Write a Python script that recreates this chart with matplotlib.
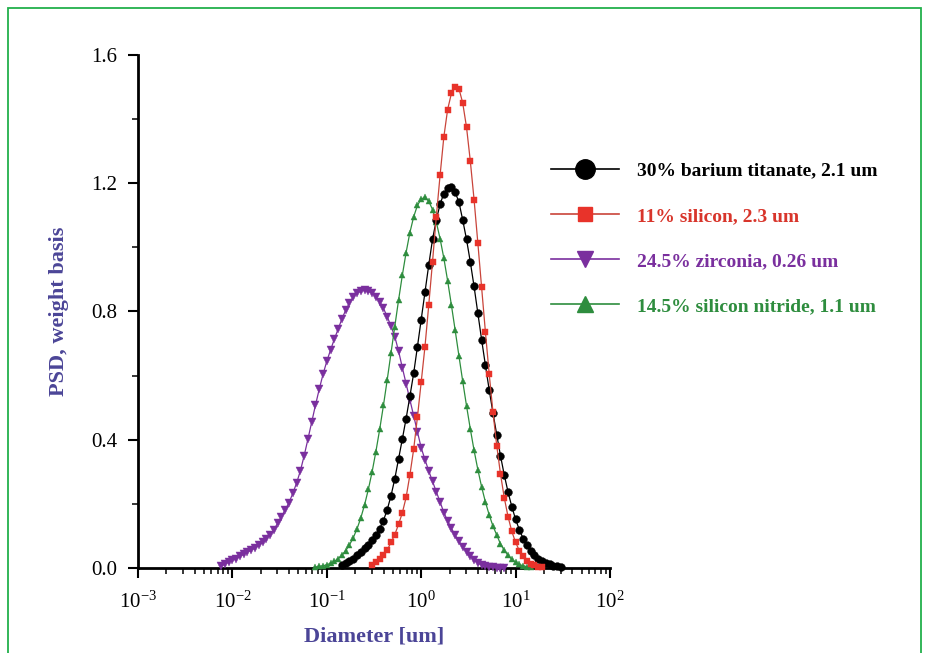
import matplotlib
matplotlib.use('Agg')
import matplotlib.pyplot as plt
from matplotlib.lines import Line2D
from matplotlib.patches import Rectangle
from matplotlib.ticker import LogLocator, MultipleLocator, FormatStrFormatter, NullFormatter

# Diameter bins [um], shared by all four distributions
diam = [
    0.007586, 0.008318, 0.009120,
    0.01000, 0.01096, 0.01202, 0.01318, 0.01445, 0.01585, 0.01738, 0.01905,
    0.02089, 0.02291, 0.02512, 0.02754, 0.03020, 0.03311, 0.03631, 0.03981,
    0.04365, 0.04786, 0.05248, 0.05754, 0.06310, 0.06918, 0.07586, 0.08318, 0.09120,
    0.1000, 0.1096, 0.1202, 0.1318, 0.1445, 0.1585, 0.1738, 0.1905,
    0.2089, 0.2291, 0.2512, 0.2754, 0.3020, 0.3311, 0.3631, 0.3981,
    0.4365, 0.4786, 0.5248, 0.5754, 0.6310, 0.6918, 0.7586, 0.8318, 0.9120,
    1.000, 1.096, 1.202, 1.318, 1.445, 1.585, 1.738, 1.905,
    2.089, 2.291, 2.512, 2.754, 3.020, 3.311, 3.631, 3.981,
    4.365, 4.786, 5.248, 5.754, 6.310, 6.918, 7.586, 8.318, 9.120,
    10.00, 10.96, 12.02, 13.18, 14.45, 15.85, 17.38, 19.05,
    20.89, 22.91, 25.12, 27.54, 30.20,
]

# PSD values (weight basis), each starting at a given bin index
barium = [0.010, 0.016, 0.022, 0.029, 0.039, 0.050, 0.061, 0.072, 0.088, 0.104,
          0.123, 0.148, 0.182, 0.225, 0.278, 0.340, 0.402, 0.466, 0.535, 0.607,
          0.690, 0.775, 0.860, 0.945, 1.025, 1.085, 1.135, 1.168, 1.186,
          1.188, 1.172, 1.141, 1.085, 1.025, 0.955, 0.878, 0.795, 0.712, 0.633,
          0.556, 0.484, 0.416, 0.350, 0.290, 0.237, 0.191, 0.152, 0.119, 0.092,
          0.071, 0.053, 0.040, 0.029, 0.021, 0.015, 0.011, 0.007, 0.005, 0.003]
barium_start = 32

silicon = [0.010, 0.018, 0.028, 0.040, 0.056, 0.080, 0.104, 0.136, 0.172, 0.220,
           0.290, 0.370, 0.470, 0.580, 0.690, 0.820, 0.955, 1.095, 1.225, 1.345,
           1.430, 1.480, 1.500,
           1.495, 1.450, 1.375, 1.270, 1.149, 1.014, 0.875, 0.737, 0.606, 0.487,
           0.382, 0.293, 0.219, 0.160, 0.114, 0.080, 0.054, 0.036, 0.023, 0.013,
           0.008, 0.004, 0.002]
silicon_start = 40

zirconia = [0.006, 0.013, 0.019, 0.024, 0.029, 0.036, 0.043, 0.050, 0.056, 0.063,
            0.071, 0.080, 0.091, 0.104, 0.120, 0.140, 0.160, 0.182, 0.204, 0.233,
            0.265, 0.303, 0.350, 0.402, 0.455, 0.508, 0.558, 0.604, 0.645, 0.680,
            0.714, 0.745, 0.777, 0.804, 0.827, 0.845, 0.858, 0.864, 0.866, 0.864,
            0.857, 0.846, 0.831, 0.810, 0.784, 0.754, 0.722, 0.677, 0.625, 0.575,
            0.525, 0.475, 0.425, 0.375, 0.338, 0.303, 0.270, 0.238, 0.206, 0.173,
            0.147, 0.124, 0.102, 0.083, 0.066, 0.050, 0.036, 0.025, 0.016, 0.010,
            0.006, 0.004, 0.002, 0.001, 0.000, 0.000]
zirconia_start = 0

nitride = [0.003, 0.005, 0.007, 0.010, 0.015, 0.021, 0.029, 0.040, 0.054, 0.072,
           0.094, 0.122, 0.156, 0.197, 0.245, 0.300, 0.363, 0.432, 0.507, 0.587,
           0.670, 0.753, 0.835, 0.913, 0.984, 1.046, 1.095, 1.131, 1.151,
           1.156, 1.144, 1.118, 1.079, 1.027, 0.966, 0.896, 0.820, 0.741, 0.661,
           0.582, 0.506, 0.434, 0.367, 0.307, 0.253, 0.206, 0.166, 0.131, 0.103,
           0.075, 0.055, 0.040, 0.027, 0.018, 0.011, 0.007, 0.004, 0.002]
nitride_start = 25

labels = ['30% barium titanate, 2.1 um', '11% silicon, 2.3 um',
          '24.5% zirconia, 0.26 um', '14.5% silicon nitride, 1.1 um']

plt.rcParams['font.family'] = 'Liberation Serif'
plt.rcParams['axes.unicode_minus'] = False

fig = plt.figure(figsize=(9.28, 6.53), dpi=100)
ax = fig.add_axes([138 / 928, 1 - 568 / 653, 472 / 928, 513 / 653])

# (values, start, marker color, line color, text color, marker, size, legend size)
styles = [
    (barium, barium_start, '#000000', '#000000', '#000000', 'o', 5.6, 14),
    (silicon, silicon_start, '#e8332a', '#c9443a', '#d8352b', 's', 4.8, 10),
    (zirconia, zirconia_start, '#7a2f9e', '#7a2f9e', '#7a2f9e', 'v', 5.5, 12),
    (nitride, nitride_start, '#2e8d3e', '#2e8d3e', '#2e8d3e', '^', 5.0, 12),
]

# draw order: zirconia, nitride, barium, silicon
for i in [2, 3, 0, 1]:
    y, start, mc, lc, tc, mk, ms, _ = styles[i]
    x = diam[start:start + len(y)]
    ax.plot(x, y, color=lc, lw=0.9, marker=mk, ms=ms, mfc=mc, mec=mc,
            mew=0.3, clip_on=False, zorder=3)

ax.set_xscale('log')
ax.set_xlim(1e-3, 1e2)
ax.set_ylim(0, 1.6)

for s in ['top', 'right']:
    ax.spines[s].set_visible(False)
for s in ['left', 'bottom']:
    ax.spines[s].set_linewidth(2)

ax.yaxis.set_major_locator(MultipleLocator(0.4))
ax.yaxis.set_minor_locator(MultipleLocator(0.2))
ax.yaxis.set_major_formatter(FormatStrFormatter('%.1f'))
ax.xaxis.set_major_locator(LogLocator(base=10, numticks=10))
ax.xaxis.set_minor_locator(LogLocator(base=10, subs=range(2, 10), numticks=20))
ax.xaxis.set_minor_formatter(NullFormatter())

ax.tick_params(which='major', length=7, width=1.5, labelsize=15, direction='out')
ax.tick_params(which='minor', length=4, width=1.1, direction='out')
ax.tick_params(axis='x', which='major', pad=10)
ax.tick_params(axis='y', which='major', pad=8)

lab_col = '#4b4597'
ax.set_xlabel('Diameter [um]', fontsize=16, fontweight='bold', color=lab_col, labelpad=10)
ax.set_ylabel('PSD, weight basis', fontsize=16, fontweight='bold', color=lab_col, labelpad=16)

handles = []
for y, start, mc, lc, tc, mk, ms, lms in styles:
    handles.append(Line2D([], [], color=lc, lw=1.2, marker=mk, ms=lms, mfc=mc, mec=mc))
leg = ax.legend(handles, labels, loc='upper left', bbox_to_anchor=(551 / 928, 1 - 162 / 653),
                bbox_transform=fig.transFigure, frameon=False, handlelength=3.5,
                handletextpad=0.9, labelspacing=1.42, borderpad=0, borderaxespad=0,
                prop={'family': 'Liberation Serif', 'weight': 'bold', 'size': 14})
for t, st in zip(leg.get_texts(), styles):
    t.set_color(st[4])

# green frame around the figure
fig.patches.append(Rectangle((8 / 928, -0.05), (921 - 8) / 928, 1 - 8 / 653 + 0.05,
                             transform=fig.transFigure, fill=False,
                             edgecolor='#22b04b', lw=1.3))

fig.savefig('out.png', dpi=100)
